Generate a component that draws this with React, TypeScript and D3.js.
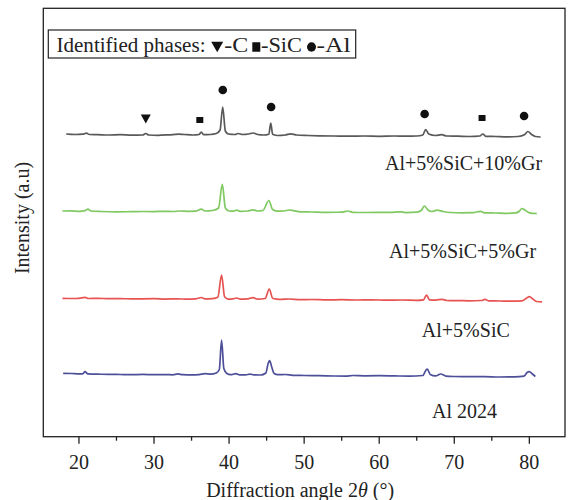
import React from "react";
import * as d3 from "d3";

// angle (deg) vs intensity height above each pattern's own baseline (a.u.)
const seriesNames = ["Al+5%SiC+10%Gr", "Al+5%SiC+5%Gr", "Al+5%SiC", "Al 2024"];
const seriesOffsets = [301.7, 225.7, 138.4, 63.2];
const seriesColors = ["#474747", "#72c251", "#e4403e", "#3a3c8e"];

const gr10: [number, number][] = [
  [18.3, 1], [19.5, 0.5], [20.5, 0.8], [21.0, 1.8], [21.4, 0.5], [22.5, 0.3], [24, 0], [25.5, 0.3], [27, -0.2],
  [28.5, 0], [28.9, 1.5], [29.3, 0], [30.5, -0.3], [32, 0.2], [33.3, 0.8], [34, 0.5], [35.2, 0], [36.0, 0.5],
  [36.3, 3], [36.6, 0.3], [37.5, 0.5], [38.3, 1.5], [38.8, 5], [39.15, 28], [39.5, 4], [39.9, 1], [40.8, 0.5],
  [41.2, 1.5], [41.8, 0.5], [42.6, 1], [43.2, 2], [43.8, 0.5], [44.6, 0], [45.3, 0.8], [45.55, 12], [45.8, 0.8],
  [46.5, -0.5], [47.5, 0], [48.2, 1.2], [49, 0], [50.5, -0.5], [52, -0.8], [54, -1], [56, -1.2], [58, -1],
  [60, -1.3], [62, -1], [63.5, -1.2], [65, -1], [65.8, 0], [66.2, 5.5], [66.6, 1], [67.5, -0.5], [68.3, 0.3],
  [69, -1], [70.5, -1.2], [72, -1.5], [73.4, -1], [73.8, 1], [74.2, -1.3], [75.5, -1.5], [77, -1.8], [78.5, -1.5],
  [79.4, 0.5], [79.8, 3.5], [80.3, 0.5], [80.8, -1.5], [81.5, -2],
];

const gr5: [number, number][] = [
  [17.8, 0], [19, 0.2], [20, -0.3], [20.8, 0.3], [21.2, 1.8], [21.6, 0], [23, -0.5], [25, -0.8], [27, -0.7],
  [28.5, -0.5], [30, -0.6], [31.5, -0.3], [32.5, -0.5], [33.5, 0], [34.5, -0.3], [35.5, -0.2], [36.3, 1.8],
  [36.8, 0], [37.8, 0.5], [38.6, 3], [39.1, 26.7], [39.5, 3], [40.0, 0], [40.5, -0.2], [41.0, 0.8], [41.5, -0.3],
  [42.5, 0], [43.2, 1.2], [43.8, 0], [44.5, 0.5], [45.3, 10.5], [45.8, 1.5], [46.5, -0.2], [47.3, 0], [48.0, 1],
  [48.6, 0.3], [49.5, -0.8], [51, -1], [53, -1.3], [55, -1.2], [55.8, 0], [56.5, -1.3], [58, -1.5], [60, -1.4],
  [61.5, -1.3], [62.8, -0.8], [63.5, -1.6], [65, -1.2], [65.6, 0.5], [66.0, 5], [66.5, 1], [67.0, -0.5],
  [67.7, 0.8], [68.5, -0.5], [69.5, -1.5], [71, -1.8], [72.5, -1.7], [73.5, -0.3], [74, -1.8], [75.5, -2],
  [77, -2.3], [78.2, -1.8], [78.7, 0], [79.0, 2.5], [79.5, 0.5], [80, -1.8], [81.0, -2.5],
];

const sic5: [number, number][] = [
  [17.8, 0], [19, -0.2], [20, 0], [20.8, 1], [21.3, -0.2], [22.5, 0], [24, -0.4], [25.5, -0.3], [27, -0.6],
  [28.5, -0.5], [30, -0.4], [31.5, -0.8], [33, -0.5], [34.5, -0.9], [35.5, -0.6], [36.3, 0.8], [36.8, -0.6],
  [37.8, -0.3], [38.5, 1], [39.0, 23.3], [39.4, 1.5], [39.9, -0.8], [40.5, -0.6], [41.0, 0.3], [41.5, -0.9],
  [42.5, -0.5], [43.2, 0.6], [43.8, -0.8], [44.8, -0.2], [45.36, 9.3], [45.8, 0], [46.3, -0.8], [47, -1],
  [48, -0.7], [49.5, -1.3], [51, -1.2], [53, -1.6], [55, -1.4], [57, -1.7], [59, -1.5], [61, -1.9], [63, -1.7],
  [65, -2], [65.9, -1.5], [66.3, 3.3], [66.7, -1.5], [67.5, -1.8], [68.4, -1], [69, -2.2], [70.5, -2.3],
  [72, -2.5], [73.6, -2.2], [74.1, -1], [74.6, -2.6], [76, -2.7], [77.5, -2.9], [79, -2.6], [79.6, 0],
  [80.0, 1.6], [80.5, -1], [81, -3.2], [81.7, -3.5],
];

const al2024: [number, number][] = [
  [17.9, 0.2], [19, 0], [20, -0.4], [20.5, -0.3], [20.8, 1.8], [21.2, -0.4], [22.5, -0.7], [24, -0.8],
  [25.5, -1], [27, -1.2], [28.5, -0.9], [30, -1.2], [31.5, -1.1], [32.5, -1.3], [33.2, -0.4], [33.8, -1.2],
  [35, -1.4], [36, -1.1], [36.8, -0.2], [37.5, -0.7], [38.3, 0.5], [38.7, 4], [39.0, 33.5], [39.3, 5],
  [39.7, 0], [40.2, -1.2], [40.9, -0.2], [41.4, -1.4], [42.2, -1.4], [42.8, -0.6], [43.3, -1.4], [44.2, -1.5],
  [44.9, 0.5], [45.2, 10], [45.4, 12.8], [45.7, 6], [46.0, 0], [46.5, -1.2], [47.5, -1], [48.5, -1.8],
  [50, -2], [52, -2.2], [54, -2.5], [55.5, -2.6], [56.5, -2], [58, -2.3], [60, -2.2], [62, -2.4], [64, -2.6],
  [65.8, -2], [66.2, 3], [66.4, 4.5], [66.8, -1], [67.5, -2.4], [68.2, -0.5], [68.9, -2.6], [70, -3],
  [72, -3.2], [74, -3.1], [76, -3.5], [78, -3.4], [79.3, -2.6], [79.7, 1], [80.0, 1.8], [80.4, -0.5],
  [80.8, -3],
];

const seriesData = [gr10, gr5, sic5, al2024];

// phase markers on the top pattern: angle, height above its baseline, phase
const markerAngles = [28.9, 36.1, 39.16, 45.6, 66.05, 73.7, 79.3];
const markerHeights = [16, 15, 45, 28, 21, 17, 19];
const markerPhases = ["C", "SiC", "Al", "Al", "Al", "SiC", "Al"];

// legend entries
const legendTitle = "Identified phases:";
const legendPhases = ["C", "SiC", "Al"];

// label anchors (right end angle, baseline height relative to the pattern baseline)
const labelAngles = [81.7, 80.9, 77.4, 75.7];
const labelHeights = [-35, -46.5, -38.2, -44.8];

const xTicks = [20, 30, 40, 50, 60, 70, 80];
const xMinorTicks = [25, 35, 45, 55, 65, 75];

const W = 568, H = 500;
const left = 43.3, right = 565, top = 8.3, bottom = 436.7;
const FONT = "'Liberation Serif', 'Times New Roman', serif";

function Glyph({ phase, cx, cy, w, h }: { phase: string; cx: number; cy: number; w: number; h: number }) {
  if (phase === "Al") return <ellipse cx={cx} cy={cy} rx={w / 2} ry={h / 2} fill="#111" />;
  if (phase === "SiC") return <rect x={cx - w / 2} y={cy - h / 2} width={w} height={h} fill="#111" />;
  return <path d={`M${cx - w / 2},${cy - h / 2}L${cx + w / 2},${cy - h / 2}L${cx},${cy + h / 2}Z`} fill="#111" />;
}

const markerSize: Record<string, [number, number]> = { Al: [8.6, 8.6], SiC: [7, 6], C: [10, 9] };
const legendSize: Record<string, [number, number]> = { Al: [9, 9.5], SiC: [8, 9.5], C: [12, 10.5] };

export default function App() {
  const x = d3.scaleLinear().domain([15.25, 84.75]).range([left, right]);
  const y = d3.scaleLinear().domain([0, bottom - top]).range([bottom, top]);

  // legend layout (glyph centres, text starts and widths)
  const glyphX = [217.2, 256.3, 311.5];
  const textX = [224.2, 261, 316.5];
  const textW = [24, 41, 34];

  return (
    <svg width={W} height={H} style={{ position: "absolute", left: 0, top: 0, background: "#fff" }}
      fontFamily={FONT}>
      <rect x={0} y={0} width={W} height={H} fill="#fff" />
      {seriesData.map((s, i) => {
        const line = d3.line<[number, number]>()
          .x((d) => x(d[0]))
          .y((d) => y(d[1] + seriesOffsets[i]))
          .curve(d3.curveMonotoneX);
        return (
          <path key={i} d={line(s) || ""} fill="none" stroke={seriesColors[i]} strokeWidth={1.7}
            strokeLinejoin="round" opacity={0.9} />
        );
      })}
      {markerAngles.map((a, i) => {
        const [w, h] = markerSize[markerPhases[i]];
        return <Glyph key={i} phase={markerPhases[i]} cx={x(a)} cy={y(markerHeights[i] + seriesOffsets[0])} w={w} h={h} />;
      })}
      {seriesNames.map((n, i) => (
        <text key={n} x={x(labelAngles[i])} y={y(labelHeights[i] + seriesOffsets[i])} textAnchor="end"
          fontSize={20} fill="#222">{n}</text>
      ))}
      {/* legend */}
      <rect x={48.3} y={30} width={307.4} height={28} fill="#fff" stroke="#222" strokeWidth={1.2} />
      <text x={56.5} y={51.5} fontSize={20.5} fill="#222" textLength={149} lengthAdjust="spacingAndGlyphs">
        {legendTitle}
      </text>
      {legendPhases.map((p, i) => {
        const [w, h] = legendSize[p];
        return (
          <g key={p}>
            <Glyph phase={p} cx={glyphX[i]} cy={47} w={w} h={h} />
            <text x={textX[i]} y={51.5} fontSize={20.5} fill="#222" textLength={textW[i]}
              lengthAdjust="spacingAndGlyphs">-{p}</text>
          </g>
        );
      })}
      {/* frame */}
      <rect x={left} y={top} width={right - left} height={bottom - top} fill="none" stroke="#222" strokeWidth={1.3} />
      {xTicks.map((t) => (
        <g key={t}>
          <line x1={x(t)} x2={x(t)} y1={bottom} y2={bottom + 7} stroke="#222" strokeWidth={1.3} />
          <text x={x(t)} y={468.5} textAnchor="middle" fontSize={20} fill="#222">{t}</text>
        </g>
      ))}
      {xMinorTicks.map((t) => (
        <line key={t} x1={x(t)} x2={x(t)} y1={bottom} y2={bottom + 4} stroke="#222" strokeWidth={1.3} />
      ))}
      <text x={(left + right) / 2 - 4} y={497} textAnchor="middle" fontSize={20} fill="#222">
        Diffraction angle 2<tspan fontStyle="italic">θ</tspan> (°)
      </text>
      <text transform={`translate(29,218) rotate(-90)`} textAnchor="middle" fontSize={20} fill="#222">
        Intensity (a.u)
      </text>
    </svg>
  );
}
